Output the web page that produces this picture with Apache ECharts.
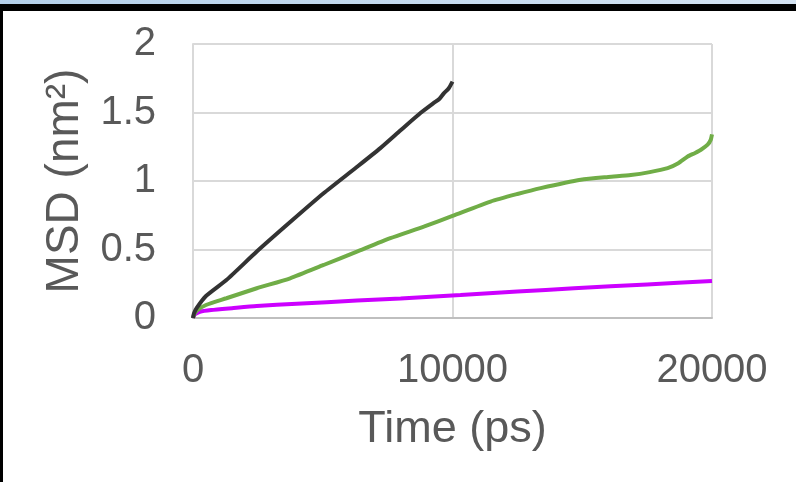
<!DOCTYPE html>
<html>
<head>
<meta charset="utf-8">
<script src="https://cdn.jsdelivr.net/npm/echarts@6/dist/echarts.min.js"></script>
<style>
html,body{margin:0;padding:0;background:#fff;}
#wrap{position:relative;width:796px;height:482px;overflow:hidden;background:#fff;}
#chart{position:absolute;left:0;top:0;width:796px;height:482px;}
#bandBlue{position:absolute;left:0;top:0;width:796px;height:4px;background:linear-gradient(to right,#b4d0ea,#d4e3f2);}
#bandBlack{position:absolute;left:0;top:4px;width:796px;height:7px;background:#000;}
#leftBlack{position:absolute;left:0;top:4px;width:3px;height:478px;background:#000;}
</style>
</head>
<body>
<div id="wrap">
<div id="chart"></div>
<div id="bandBlue"></div>
<div id="bandBlack"></div>
<div id="leftBlack"></div>
</div>
<script>
// Data
var blackTimes  = [0, 40, 150, 500, 1287, 2458, 3745, 5032, 6300, 7220, 8000, 8765, 9279, 9500, 9665, 9850, 10000];
var blackMSD    = [0, 0.035, 0.075, 0.16, 0.277, 0.485, 0.70, 0.91, 1.10, 1.24, 1.37, 1.496, 1.57, 1.60, 1.64, 1.675, 1.725];

var greenTimes  = [0, 40, 150, 500, 1287, 2458, 3745, 5032, 6318, 7606, 8893, 10000, 11467, 12500, 13398, 14943, 16000, 16873, 17600, 18290, 18700, 19063, 19350, 19575, 19832, 19950, 20000];
var greenMSD    = [0, 0.025, 0.055, 0.095, 0.144, 0.217, 0.29, 0.387, 0.485, 0.583, 0.667, 0.745, 0.85, 0.905, 0.948, 1.009, 1.03, 1.044, 1.065, 1.094, 1.13, 1.179, 1.205, 1.228, 1.265, 1.30, 1.34];

var magentaTimes = [0, 30, 100, 270, 700, 1500, 2458, 4000, 6318, 8000, 10309, 12500, 14685, 17500, 20000];
var magentaMSD   = [0, 0.015, 0.03, 0.046, 0.058, 0.072, 0.088, 0.104, 0.127, 0.143, 0.168, 0.193, 0.217, 0.245, 0.27];

var xTicks = [0, 10000, 20000];
var yTicks = [0, 0.5, 1, 1.5, 2];

function pairs(t, v){ return t.map(function(x,i){ return [x, v[i]]; }); }

var font = 'Liberation Sans, Arial, sans-serif';
var chart = echarts.init(document.getElementById('chart'), null, {renderer:'canvas'});
chart.setOption({
  animation:false,
  backgroundColor:'#fff',
  grid:{left:193, right:84, top:44, bottom:164, containLabel:false},
  xAxis:{
    type:'value', min:xTicks[0], max:xTicks[xTicks.length-1], interval:10000,
    name:'Time (ps)', nameLocation:'middle', nameGap:89,
    nameTextStyle:{fontFamily:font, fontSize:45, color:'#595959'},
    axisLine:{show:true, lineStyle:{color:'#bfbfbf', width:2}},
    axisTick:{show:false},
    axisLabel:{fontFamily:font, fontSize:40, color:'#595959', margin:33, formatter:function(v){ return String(v); }},
    splitLine:{show:true, lineStyle:{color:'#d9d9d9', width:2}}
  },
  yAxis:{
    type:'value', min:yTicks[0], max:yTicks[yTicks.length-1], interval:0.5,
    name:'MSD (nm²)', nameLocation:'middle', nameGap:105,
    nameTextStyle:{fontFamily:font, fontSize:46, color:'#595959'},
    axisLine:{show:true, lineStyle:{color:'#d9d9d9', width:2}},
    axisTick:{show:false},
    axisLabel:{fontFamily:font, fontSize:40, color:'#595959', margin:37},
    splitLine:{show:true, lineStyle:{color:'#d9d9d9', width:2}}
  },
  series:[
    {type:'line', data:pairs(magentaTimes, magentaMSD), showSymbol:false, smooth:0.2, lineStyle:{color:'#cc00ff', width:4}, itemStyle:{color:'#cc00ff'}},
    {type:'line', data:pairs(greenTimes, greenMSD), showSymbol:false, smooth:0.2, lineStyle:{color:'#70ad47', width:4}, itemStyle:{color:'#70ad47'}},
    {type:'line', data:pairs(blackTimes, blackMSD), showSymbol:false, smooth:0.2, lineStyle:{color:'#333333', width:4}, itemStyle:{color:'#333333'}}
  ]
});
</script>
</body>
</html>
